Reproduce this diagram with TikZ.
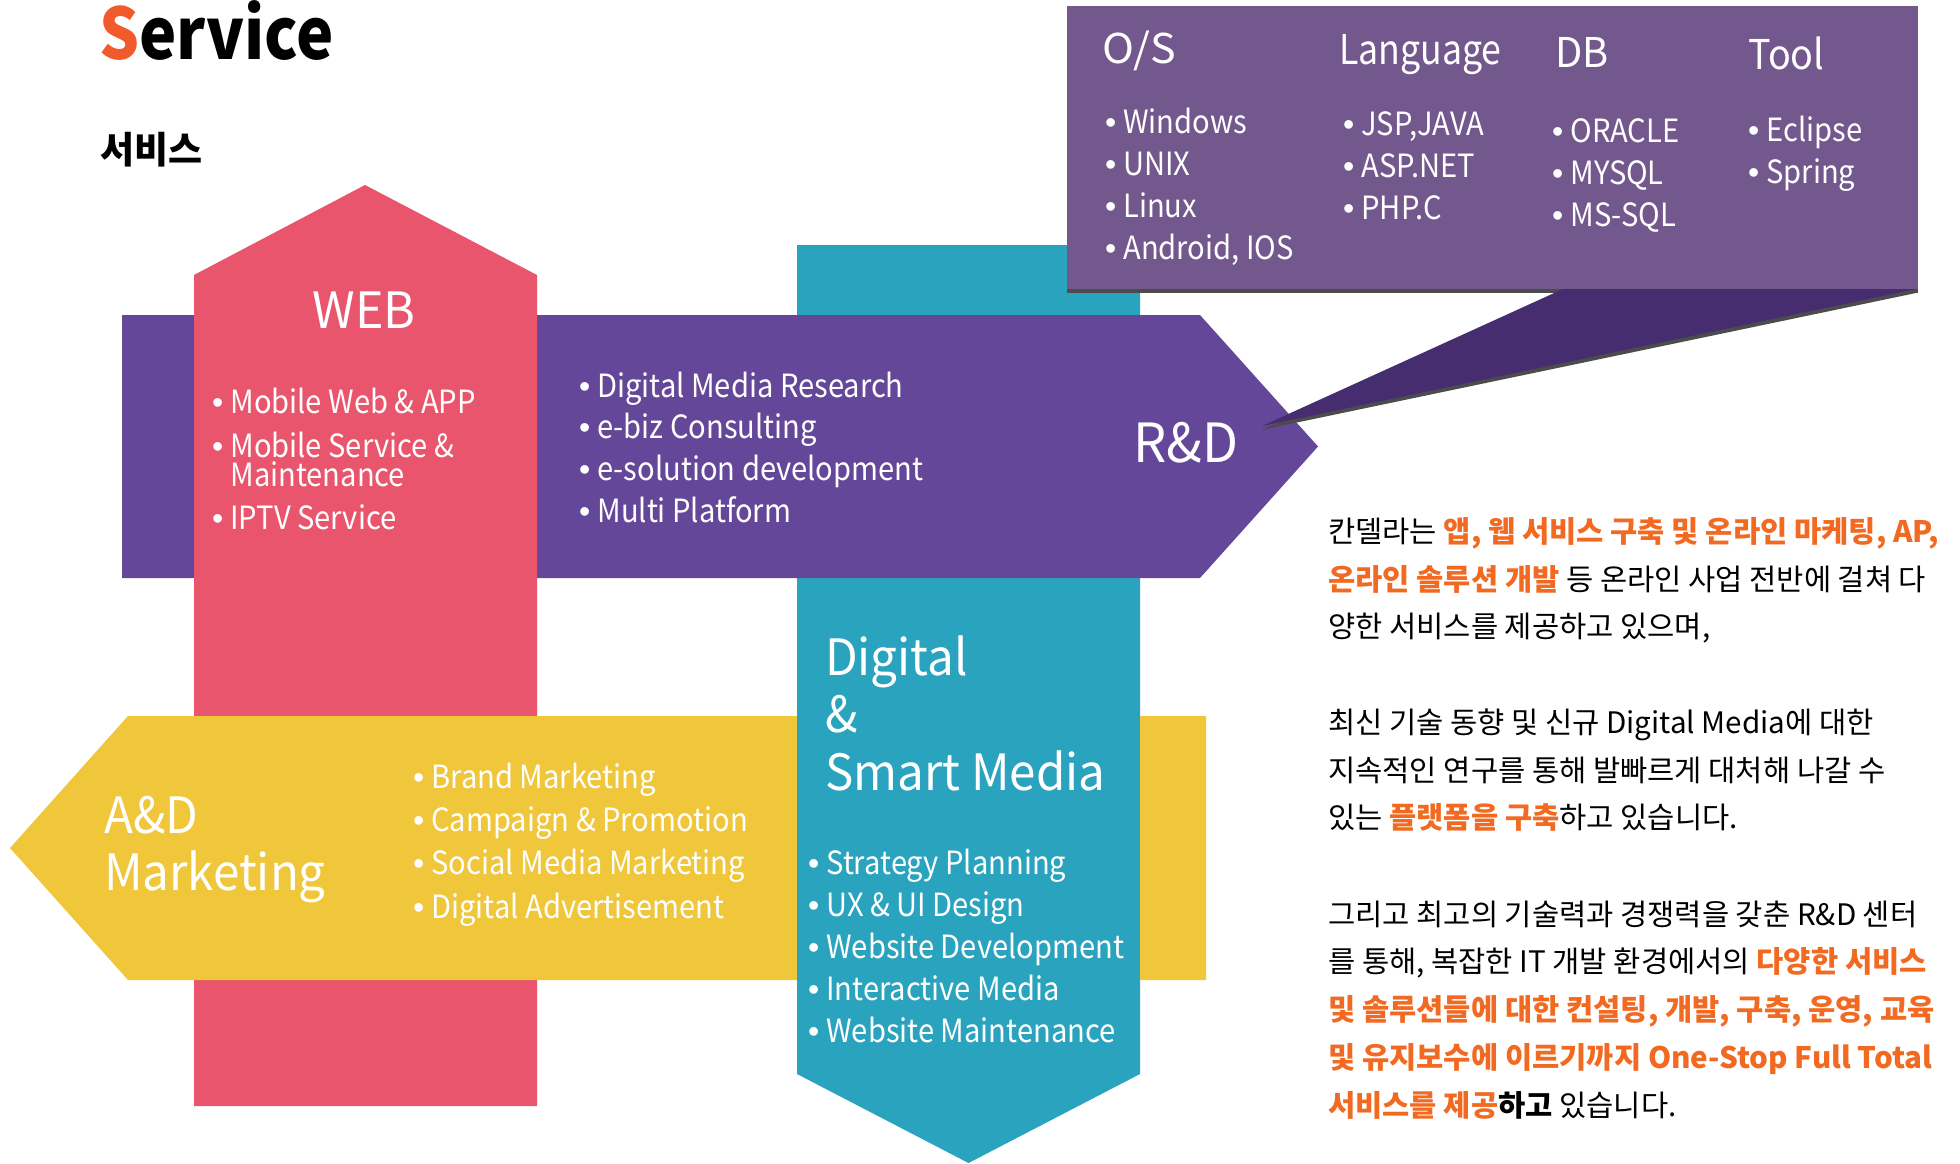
\documentclass[tikz,border=0pt]{standalone}
\usepackage{graphicx}
\usepackage{fontspec}
\setmainfont{Noto Sans CJK KR}
\newfontfamily\bulfont{Liberation Sans}
\definecolor{webred}{HTML}{E8556C}
\definecolor{rdpurple}{HTML}{654799}
\definecolor{dteal}{HTML}{2AA3BE}
\definecolor{adyellow}{HTML}{F0C63A}
\definecolor{boxpurple}{HTML}{73588E}
\definecolor{tailpurple}{HTML}{452D6F}
\definecolor{korange}{HTML}{F26A21}
\definecolor{torange}{HTML}{F15A2B}
\newcommand\itembul{{\bulfont •}\hspace{7pt}}
\newcommand\sx[2]{\scalebox{#1}[1]{#2}}
\newcommand\ci[1]{\scalebox{0.91}[1]{#1}}
\newcommand\hl[1]{\textbf{\textcolor{korange}{#1}}}
\tikzset{
  item/.style={anchor=base west, inner sep=0pt, text=white, font=\fontsize{32}{36}\selectfont},
  head/.style={anchor=base west, inner sep=0pt, text=white, font=\fontsize{50}{56}\selectfont},
  chead/.style={anchor=base west, inner sep=0pt, text=white, font=\fontsize{41}{48}\selectfont},
  para/.style={anchor=base west, inner sep=0pt, text=black, font=\fontsize{29.6}{34}\selectfont},
}
\begin{document}
\begin{tikzpicture}[x=1pt,y=-1pt]
\useasboundingbox[fill=white] (0,0) rectangle (1960,1163);
% teal arrow (down)
\fill[dteal] (797,245) -- (1140,245) -- (1140,1074) -- (968.5,1163) -- (797,1074) -- cycle;
% purple arrow (right)
\fill[rdpurple] (122,315) -- (1200,315) -- (1318,446.5) -- (1200,578) -- (122,578) -- cycle;
% red arrow (up)
\fill[webred] (194,1106) -- (194,275) -- (365,185) -- (537,275) -- (537,1106) -- cycle;
% yellow arrow (left)
\fill[adyellow] (128,716) -- (1206,716) -- (1206,980) -- (128,980) -- (10,848) -- cycle;
% teal over yellow
\fill[dteal] (797,715) rectangle (1140,981);
% callout
\fill[black!70] (1067,10) rectangle (1918,293);
\fill[boxpurple] (1067,6) rectangle (1918,289);
\fill[black!70] (1562,293) -- (1916,293) -- (1261,430) -- cycle;
\fill[tailpurple] (1563,289) -- (1916,289) -- (1262,426) -- cycle;

% title
\node[anchor=base west, inner sep=0pt, font=\fontsize{71}{76}\selectfont\bfseries] (title) at (99,59) {\sx{0.885}{\textcolor{torange}{S}ervice}};
\node[anchor=base west, inner sep=0pt, font=\fontsize{37}{42}\selectfont\bfseries] (subtitle) at (100,163) {서비스};

% headings
\node[head, anchor=base] (webh) at (364,328) {\sx{0.97}{WEB}};
\node[head, font=\fontsize{54}{60}\selectfont] (rdh) at (1133,462) {\sx{0.97}{R\&D}};
\node[head] (adh1) at (104,833) {\sx{0.95}{A\&D}};
\node[head] (adh2) at (104,890) {\sx{0.95}{Marketing}};
\node[head] (dsh1) at (825,675) {\sx{0.95}{Digital}};
\node[head] (dsh2) at (825,732) {\sx{0.95}{\&}};
\node[head] (dsh3) at (825,790) {\sx{0.95}{Smart Media}};

% WEB items
\node[item] (web1) at (212,413) {\itembul\ci{Mobile Web \& APP}};
\node[item] (web2) at (212,457) {\itembul\ci{Mobile Service \&}};
\node[item] (web3) at (212,486) {\phantom{\itembul}\ci{Maintenance}};
\node[item] (web4) at (212,529) {\itembul\ci{IPTV Service}};

% R&D items
\foreach \t [count=\i] in {Digital Media Research, e-biz Consulting, e-solution development, Multi Platform}
  \node[item] (rd\i) at (579,{397+41.7*(\i-1)}) {\itembul\ci{\t}};

% A&D items
\foreach \t [count=\i] in {Brand Marketing, Campaign \& Promotion, Social Media Marketing, Digital Advertisement}
  \node[item] (ad\i) at (413,{788+43.4*(\i-1)}) {\itembul\ci{\t}};

% Digital items
\foreach \t [count=\i] in {Strategy Planning, UX \& UI Design, Website Development, Interactive Media, Website Maintenance}
  \node[item] (ds\i) at (808,{874+42.2*(\i-1)}) {\itembul\ci{\t}};

% callout headers
\node[chead] (os) at (1102,63) {\sx{1.05}{O/S}};
\node[chead] (lang) at (1339,64) {\sx{0.87}{Language}};
\node[chead] (db) at (1555,67) {\sx{0.97}{DB}};
\node[chead] (tool) at (1748,69) {\sx{0.92}{Tool}};

\foreach \t [count=\i] in {Windows, UNIX, Linux, {Android, IOS}}
  \node[item] (os\i) at (1105,{133+42.3*(\i-1)}) {\itembul\ci{\t}};
\foreach \t [count=\i] in {{JSP,JAVA}, ASP.NET, PHP.C}
  \node[item] (lang\i) at (1343,{135+42*(\i-1)}) {\itembul\ci{\t}};
\foreach \t [count=\i] in {ORACLE, MYSQL, MS-SQL}
  \node[item] (db\i) at (1552,{142+42*(\i-1)}) {\itembul\ci{\t}};
\foreach \t [count=\i] in {Eclipse, Spring}
  \node[item] (tool\i) at (1748,{141+42*(\i-1)}) {\itembul\ci{\t}};

% paragraph
\node[para] (p1) at (1328,542) {칸델라는 \hl{앱, 웹 서비스 구축 및 온라인 마케팅, AP,}};
\node[para] (p2) at (1328,590) {\hl{온라인 솔루션 개발} 등 온라인 사업 전반에 걸쳐 다};
\node[para] (p3) at (1328,637) {양한 서비스를 제공하고 있으며,};
\node[para] (p4) at (1328,733) {최신 기술 동향 및 신규 Digital Media에 대한};
\node[para] (p5) at (1328,781) {지속적인 연구를 통해 발빠르게 대처해 나갈 수};
\node[para] (p6) at (1328,828) {있는 \hl{플랫폼을 구축}하고 있습니다.};
\node[para] (p7) at (1328,925) {그리고 최고의 기술력과 경쟁력을 갖춘 R\&D 센터};
\node[para] (p8) at (1328,972) {를 통해, 복잡한 IT 개발 환경에서의 \hl{다양한 서비스}};
\node[para] (p9) at (1328,1020) {\hl{및 솔루션들에 대한 컨설팅, 개발, 구축, 운영, 교육}};
\node[para] (p10) at (1328,1068) {\hl{및 유지보수에 이르기까지 One-Stop Full Total}};
\node[para] (p11) at (1328,1116) {\hl{서비스를 제공}\textbf{하고} 있습니다.};
\end{tikzpicture}
\end{document}
